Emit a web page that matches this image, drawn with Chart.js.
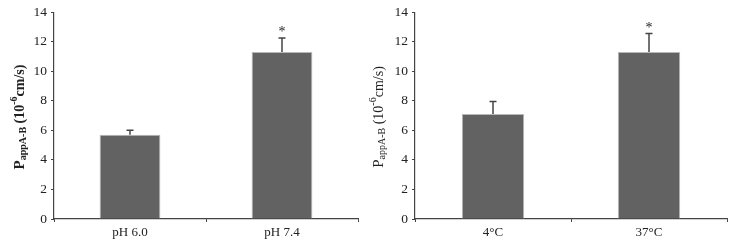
<!DOCTYPE html>
<html lang="en">
<head>
    <meta charset="UTF-8">
    <title>Papp A-B</title>
    <script src="https://cdn.jsdelivr.net/npm/chart.js"></script>
    <style>
        body { margin: 0; background: #fff; }
        .panel { position: absolute; top: 0; width: 367px; height: 250px; }
    </style>
</head>
<body>
    <div class="panel" style="left:0"><canvas id="chartPh"></canvas></div>
    <div class="panel" style="left:367px; width:368px"><canvas id="chartTemp"></canvas></div>

    <script>
        // data
        const phLabels = ['pH 6.0', 'pH 7.4'];
        const phValues = [5.7, 11.3];
        const phErrors = [0.3, 0.95];
        const phStars = ['', '*'];

        const tempLabels = ['4°C', '37°C'];
        const tempValues = [7.1, 11.3];
        const tempErrors = [0.85, 1.25];
        const tempStars = ['', '*'];

        const yTicks = [0, 2, 4, 6, 8, 10, 12, 14];

        const FONT = '"Liberation Serif", "DejaVu Serif", serif';
        const INK = '#222';

        // upper error bars + significance stars
        const errorBars = {
            id: 'errorBars',
            afterDatasetsDraw(chart, args, opts) {
                const ctx = chart.ctx;
                const y = chart.scales.y;
                chart.getDatasetMeta(0).data.forEach((bar, i) => {
                    const top = y.getPixelForValue(opts.values[i] + opts.errors[i]);
                    ctx.save();
                    ctx.strokeStyle = '#444';
                    ctx.lineWidth = 1.5;
                    ctx.beginPath();
                    ctx.moveTo(bar.x, bar.y);
                    ctx.lineTo(bar.x, top);
                    ctx.moveTo(bar.x - 3.5, top);
                    ctx.lineTo(bar.x + 3.5, top);
                    ctx.stroke();
                    if (opts.stars[i]) {
                        ctx.fillStyle = INK;
                        ctx.font = '14px ' + FONT;
                        ctx.textAlign = 'center';
                        ctx.textBaseline = 'alphabetic';
                        ctx.fillText(opts.stars[i], bar.x, top - 2);
                    }
                    ctx.restore();
                });
            }
        };

        // rotated y title with subscript and superscript
        const yTitle = {
            id: 'yTitle',
            afterDraw(chart, args, opts) {
                const ctx = chart.ctx;
                const w = opts.bold ? 'bold ' : '';
                const parts = [
                    { t: 'P', size: 15, dy: 0 },
                    { t: 'appA-B', size: 10, dy: 3 },
                    { t: ' (10', size: 14, dy: 0 },
                    { t: '-6', size: 10, dy: -6 },
                    { t: 'cm/s)', size: 14, dy: 0 }
                ];
                ctx.save();
                let total = 0;
                parts.forEach(p => {
                    ctx.font = w + p.size + 'px ' + FONT;
                    p.w = ctx.measureText(p.t).width;
                    total += p.w;
                });
                ctx.translate(opts.x, opts.y);
                ctx.rotate(-Math.PI / 2);
                ctx.fillStyle = INK;
                ctx.textBaseline = 'middle';
                let cx = -total / 2;
                parts.forEach(p => {
                    ctx.font = w + p.size + 'px ' + FONT;
                    ctx.fillText(p.t, cx, p.dy);
                    cx += p.w;
                });
                ctx.restore();
            }
        };

        function makeChart(id, labels, values, errors, stars, boldTitle, titleX, leftW, rightPad) {
            return new Chart(document.getElementById(id), {
                type: 'bar',
                data: {
                    labels: labels,
                    datasets: [{
                        data: values,
                        backgroundColor: '#626262',
                        borderColor: '#b8b8b8',
                        borderWidth: 1,
                        barPercentage: 0.4,
                        categoryPercentage: 1.0
                    }]
                },
                plugins: [errorBars, yTitle],
                options: {
                    responsive: true,
                    maintainAspectRatio: false,
                    animation: false,
                    layout: { padding: { top: 9, right: rightPad, bottom: 0, left: 0 } },
                    plugins: {
                        legend: { display: false },
                        tooltip: { enabled: false },
                        errorBars: { values: values, errors: errors, stars: stars },
                        yTitle: { bold: boldTitle, x: titleX, y: 117 }
                    },
                    scales: {
                        x: {
                            grid: { display: true, drawOnChartArea: false, drawTicks: true, tickLength: 3, color: '#444', offset: true },
                            border: { display: true, color: '#444', width: 1.2 },
                            ticks: { color: INK, font: { family: FONT, size: 13 }, padding: 3 },
                            afterFit(s) { s.height = 31; }
                        },
                        y: {
                            min: 0,
                            max: 14,
                            afterBuildTicks(s) { s.ticks = yTicks.map(v => ({ value: v })); },
                            grid: { display: true, drawOnChartArea: false, drawTicks: true, tickLength: 3, color: '#444' },
                            border: { display: true, color: '#444', width: 1.2 },
                            ticks: { color: INK, font: { family: FONT, size: 13.5 }, padding: 4 },
                            afterFit(s) { s.width = leftW; }
                        }
                    }
                }
            });
        }

        makeChart('chartPh', phLabels, phValues, phErrors, phStars, true, 20, 54, 9);
        makeChart('chartTemp', tempLabels, tempValues, tempErrors, tempStars, false, 12, 48, 8);
    </script>
</body>
</html>
